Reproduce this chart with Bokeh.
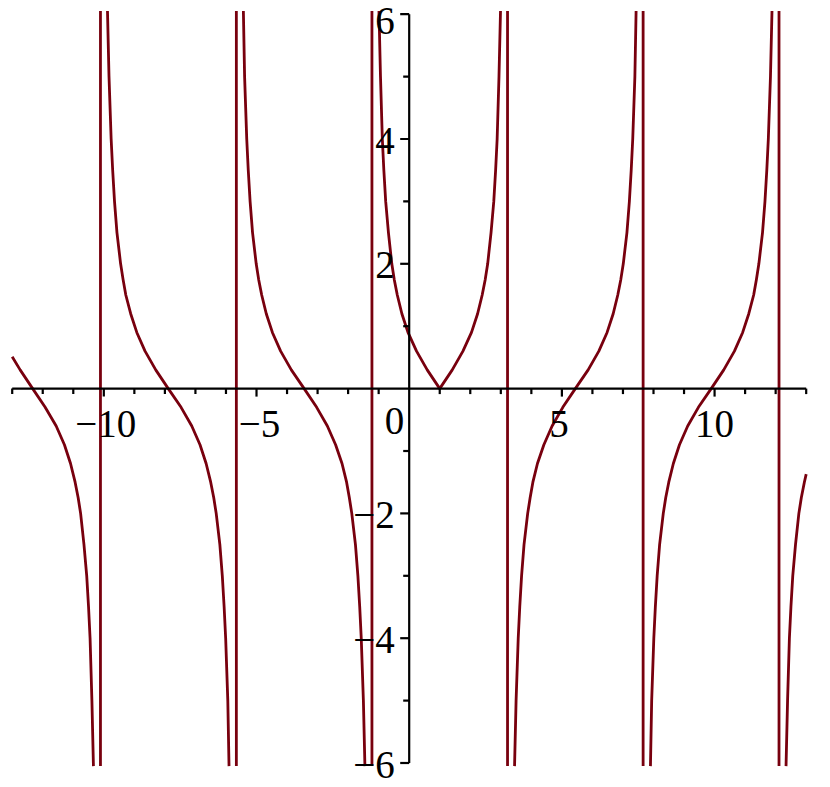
from bokeh.plotting import figure
from bokeh.embed import file_html
from bokeh.resources import INLINE
from bokeh.core.properties import value

# ---------------- data ----------------
# vertical connecting lines (at the poles)
asymptote_x = [-10.11, -5.66, -1.22, 3.22, 7.66, 12.11]

# branch 1 (left edge to first pole)
b1_x = [-13.0, -12.74, -12.33, -11.92, -11.56, -11.29, -11.09, -10.94, -10.84,
        -10.76, -10.65, -10.56, -10.50, -10.45, -10.39, -10.34]
b1_y = [0.51, 0.3, 0.0, -0.3, -0.6, -0.9, -1.2, -1.5, -1.75,
        -2.0, -2.5, -3.0, -3.5, -4.0, -5.0, -6.05]

# falling branches (y values shared)
fall_y = [6.05, 5.0, 4.0, 3.5, 3.0, 2.5, 2.0, 1.75, 1.5, 1.2, 0.9, 0.6, 0.3, 0.0,
          -0.3, -0.6, -0.9, -1.2, -1.5, -1.75, -2.0, -2.5, -3.0, -3.5, -4.0, -5.0, -6.05]
b2_x = [-9.88, -9.83, -9.76, -9.71, -9.65, -9.57, -9.45, -9.37, -9.28, -9.12, -8.92,
        -8.65, -8.30, -7.89, -7.47, -7.12, -6.85, -6.65, -6.50, -6.40, -6.32, -6.20,
        -6.12, -6.06, -6.01, -5.94, -5.90]
b3_x = [-5.43, -5.39, -5.32, -5.27, -5.21, -5.13, -5.01, -4.93, -4.83, -4.68, -4.48,
        -4.21, -3.86, -3.44, -3.03, -2.68, -2.41, -2.20, -2.05, -1.96, -1.88, -1.76,
        -1.68, -1.62, -1.57, -1.50, -1.45]

# central V-shaped branch
b4_x = [-0.99, -0.94, -0.88, -0.83, -0.77, -0.68, -0.57, -0.49, -0.39, -0.24, -0.04,
        0.24, 0.59, 1.0, 1.41, 1.76, 2.04, 2.24, 2.39, 2.49, 2.57, 2.68, 2.77, 2.83,
        2.88, 2.94, 2.99]
b4_y = [6.05, 5.0, 4.0, 3.5, 3.0, 2.5, 2.0, 1.75, 1.5, 1.2, 0.9, 0.6, 0.3, 0.0,
        0.3, 0.6, 0.9, 1.2, 1.5, 1.75, 2.0, 2.5, 3.0, 3.5, 4.0, 5.0, 6.05]

# rising branches (y values shared)
rise_y = [-6.05, -5.0, -4.0, -3.5, -3.0, -2.5, -2.0, -1.75, -1.5, -1.2, -0.9, -0.6, -0.3,
          0.0, 0.3, 0.6, 0.9, 1.2, 1.5, 1.75, 2.0, 2.5, 3.0, 3.5, 4.0, 5.0, 6.05]
b5_x = [3.45, 3.50, 3.57, 3.62, 3.68, 3.76, 3.88, 3.96, 4.05, 4.20, 4.41, 4.68, 5.03,
        5.44, 5.86, 6.21, 6.48, 6.68, 6.83, 6.93, 7.01, 7.13, 7.21, 7.27, 7.32, 7.39, 7.43]
b6_x = [7.90, 7.94, 8.01, 8.06, 8.12, 8.20, 8.32, 8.40, 8.50, 8.65, 8.85, 9.12, 9.47,
        9.89, 10.30, 10.65, 10.92, 11.12, 11.28, 11.37, 11.45, 11.57, 11.65, 11.71,
        11.76, 11.83, 11.88]

# last branch (last pole to right edge)
b7_x = [12.34, 12.39, 12.45, 12.50, 12.56, 12.65, 12.76, 12.84, 12.94, 13.0]
b7_y = [-6.05, -5.0, -4.0, -3.5, -3.0, -2.5, -2.0, -1.75, -1.5, -1.37]

# axes / ticks
x_axis_ticks = list(range(-13, 14))
x_major = [-10, -5, 5, 10]
x_labels = ["\u221210", "\u22125", "5", "10"]
y_axis_ticks = list(range(-6, 7))
y_major = [-6, -4, -2, 2, 4, 6]
y_labels = ["\u22126", "\u22124", "\u22122", "2", "4", "6"]
origin_label = ["0"]

# ---------------- layout / style ----------------
CURVE = "#78000E"
FONT = value("Liberation Serif")
FONT_SIZE = "39px"
PX_X = 30.538      # pixels per x unit
PX_Y = 62.4        # pixels per y unit
X0_PAGE = 408.7    # page x of x=0
Y0_PAGE = 388.1    # page y of y=0
PAGE_LEFT = 0
PAGE_TOP = 0
W, H = 815, 787

x_start = (PAGE_LEFT - X0_PAGE) / PX_X
x_end = (PAGE_LEFT + W - X0_PAGE) / PX_X
y_end = (Y0_PAGE - PAGE_TOP) / PX_Y
y_start = (Y0_PAGE - (PAGE_TOP + H)) / PX_Y

p = figure(width=W, height=H, x_range=(x_start, x_end), y_range=(y_start, y_end),
           output_backend="svg", toolbar_location=None,
           x_axis_type=None, y_axis_type=None, min_border=0,
           outline_line_color=None, background_fill_color="white",
           border_fill_color="white")

# curve branches
LW = 2.8
for xs, ys in [(b1_x, b1_y), (b2_x, fall_y), (b3_x, fall_y), (b4_x, b4_y),
               (b5_x, rise_y), (b6_x, rise_y), (b7_x, b7_y)]:
    p.line(xs, ys, line_color=CURVE, line_width=LW, line_join="round")

# vertical connecting lines at the poles
top_y = max(fall_y)
bot_y = min(fall_y)
p.segment(x0=asymptote_x, y0=[bot_y] * len(asymptote_x),
          x1=asymptote_x, y1=[top_y] * len(asymptote_x),
          line_color=CURVE, line_width=LW)

# axis lines
AX = dict(line_color="black", line_width=2.2)
p.segment(x0=[x_axis_ticks[0]], y0=[0], x1=[x_axis_ticks[-1]], y1=[0], **AX)
p.segment(x0=[0], y0=[y_axis_ticks[0]], x1=[0], y1=[y_axis_ticks[-1]], **AX)

# x ticks (below the axis)
x_minor = [t for t in x_axis_ticks if t != 0 and t not in x_major]
p.segment(x0=x_minor, y0=[0] * len(x_minor), x1=x_minor,
          y1=[-5.5 / PX_Y] * len(x_minor), **AX)
p.segment(x0=x_major, y0=[0] * len(x_major), x1=x_major,
          y1=[-8 / PX_Y] * len(x_major), **AX)

# y ticks (left of the axis)
y_minor = [t for t in y_axis_ticks if t != 0 and t not in y_major]
p.segment(x0=[0] * len(y_minor), y0=y_minor, x1=[-6 / PX_X] * len(y_minor),
          y1=y_minor, **AX)
p.segment(x0=[0] * len(y_major), y0=y_major, x1=[-9 / PX_X] * len(y_major),
          y1=y_major, **AX)

# tick labels
x_label_dx = [2, 3, -3, 0]
y_label_dy = [1.5, 1.5, 1.5, 1.5, 1.5, 7]   # top label nudged to stay inside
p.text(x=x_major, y=[0] * len(x_major), text=x_labels, text_font=FONT,
       text_font_size=FONT_SIZE, text_color="black", text_align="center",
       text_baseline="alphabetic", x_offset=x_label_dx, y_offset=35)
p.text(x=[0] * len(y_major), y=y_major, text=y_labels, text_font=FONT,
       text_font_size=FONT_SIZE, text_color="black", text_align="right",
       text_baseline="alphabetic", x_offset=-14.5, y_offset=y_label_dy)
p.text(x=[0], y=[0], text=origin_label, text_font=FONT,
       text_font_size=FONT_SIZE, text_color="black", text_align="right",
       text_baseline="alphabetic", x_offset=-5, y_offset=32)

open("out.html", "w").write(file_html(p, INLINE))
